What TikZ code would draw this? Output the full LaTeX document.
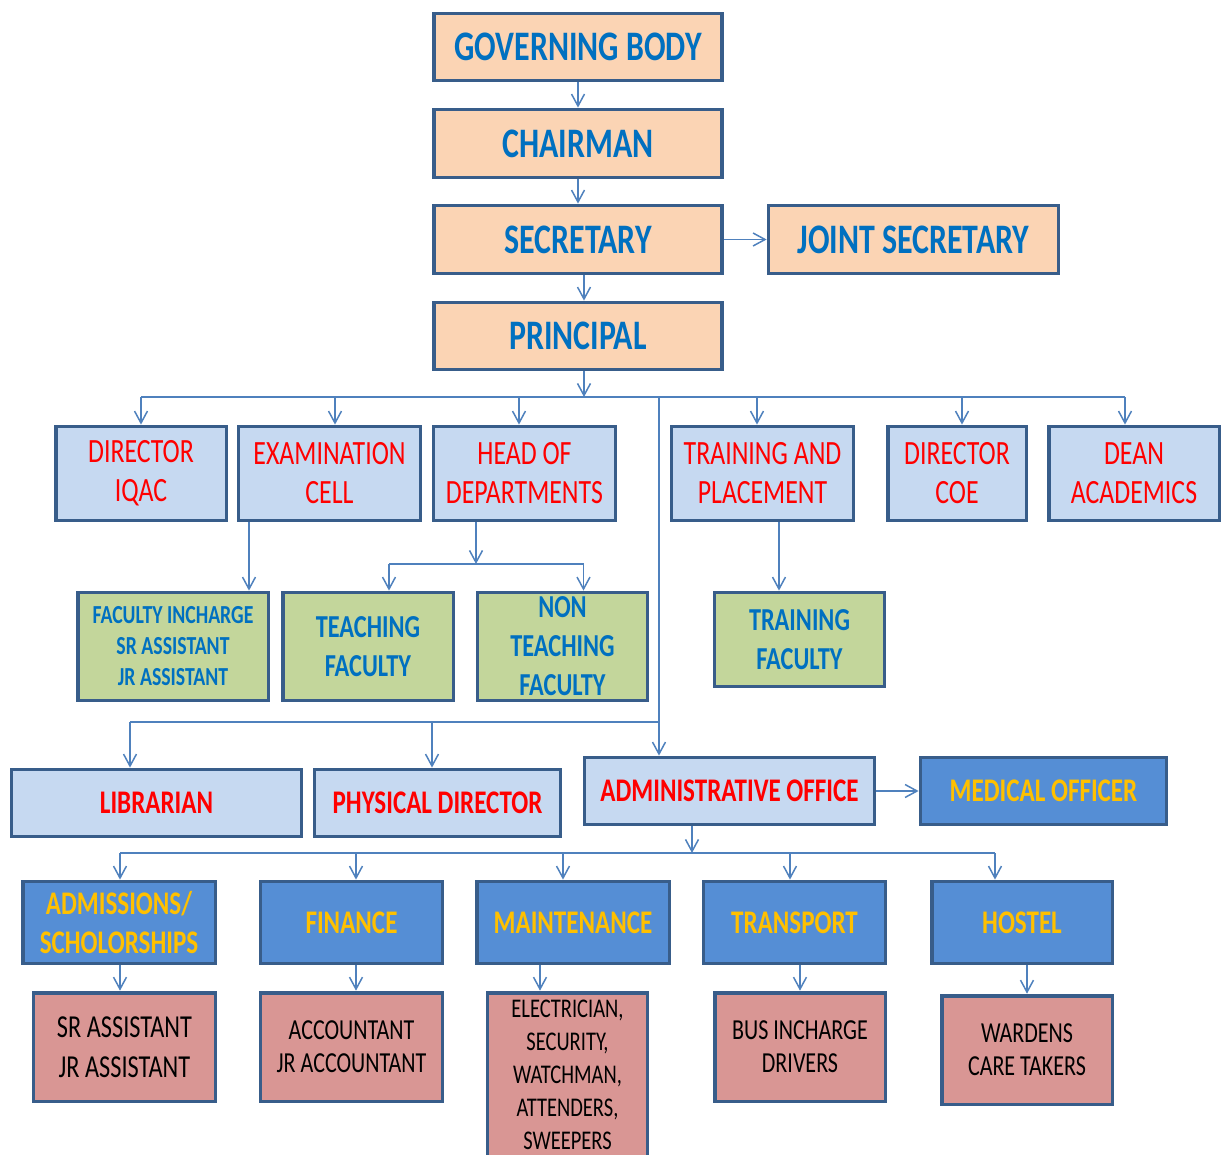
\documentclass[tikz,border=0pt]{standalone}
\usepackage{fontspec}
\setmainfont{Carlito}[FakeStretch=0.76]
\usepackage{tikz}
\usetikzlibrary{arrows.meta}
\usetikzlibrary{positioning}
\usetikzlibrary{calc}
\definecolor{peach}{HTML}{FBD4B4}
\definecolor{edge}{HTML}{385D8A}
\definecolor{topblue}{HTML}{0070C0}
\definecolor{paleblue}{HTML}{C6D9F1}
\definecolor{olive}{HTML}{C3D69B}
\definecolor{midblue}{HTML}{558ED5}
\definecolor{gold}{HTML}{FFC000}
\definecolor{rose}{HTML}{D99694}
\definecolor{wire}{HTML}{4F81BD}
\tikzstyle{box}=[draw=edge,line width=1.9pt,rectangle,inner sep=0pt,align=center]
\tikzstyle{board}=[box,fill=peach,text=topblue,font=\fontsize{21}{25}\selectfont\bfseries,minimum width=144pt,minimum height=33.5pt]
\tikzstyle{head}=[box,fill=paleblue,text=red,font=\fontsize{17}{19.5}\selectfont,minimum height=47pt,execute at begin node={\rule{0pt}{14.5pt}}]
\tikzstyle{faculty}=[box,fill=olive,text=topblue,font=\fontsize{16}{19.5}\selectfont\bfseries,minimum height=54pt]
\tikzstyle{office}=[box,fill=paleblue,text=red,font=\fontsize{16.5}{20}\selectfont\bfseries,minimum height=33.5pt]
\tikzstyle{section}=[box,fill=midblue,text=gold,font=\fontsize{16.5}{19.5}\selectfont\bfseries,minimum height=41pt]
\tikzstyle{worker}=[box,fill=rose,text=black,font=\fontsize{14.5}{16.5}\selectfont,minimum height=54.4pt]
\tikzstyle{link}=[draw=wire,line width=0.75pt]

\begin{document}
\begin{tikzpicture}[x=0.5pt,y=-0.5pt,>={Straight Barb[length=6pt,width=6.5pt]}]
\clip (0,0) rectangle (1223,1155);
% top of the chart
\node [board] (gb) at (578,47) {GOVERNING BODY};
\node [board,minimum height=34pt] (chair) at (578,143.5) {CHAIRMAN};
\node [board,minimum height=34pt] (sec) at (578,239.5) {SECRETARY};
\node [board,minimum width=145pt,minimum height=34pt] (jsec) at (913.5,239.5) {JOINT SECRETARY};
\node [board] (prin) at (578,336) {PRINCIPAL};

\node [head,minimum width=85.4pt] (iqac) at (141,473.5) {DIRECTOR\\IQAC};
\node [head,minimum width=91pt] (exam) at (329.5,473.5) {EXAMINATION\\CELL};
\node [head,minimum width=91pt] (hod) at (524.5,473.5) {HEAD OF\\DEPARTMENTS};
\node [head,minimum width=91pt] (tp) at (762.5,473.5) {TRAINING AND\\PLACEMENT};
\node [head,minimum width=69.4pt] (coe) at (957,473.5) {DIRECTOR\\COE};
\node [head,minimum width=85.4pt] (dean) at (1134,473.5) {DEAN\\ACADEMICS};

\node [faculty,minimum width=95.4pt,font=\fontsize{13}{15.5}\selectfont\bfseries] (fic) at (173,646.5) {FACULTY INCHARGE\\SR ASSISTANT\\JR ASSISTANT};
\node [faculty,minimum width=85.4pt] (teach) at (368,646.5) {TEACHING\\FACULTY};
\node [faculty,minimum width=85pt] (nonteach) at (562.5,646.5) {NON\\TEACHING\\FACULTY};
\node [faculty,minimum width=85pt,minimum height=47pt] (trainf) at (799.5,639.5) {TRAINING\\FACULTY};

\node [office,minimum width=145pt] (lib) at (156.5,803) {LIBRARIAN};
\node [office,minimum width=123pt] (phys) at (437.5,803) {PHYSICAL DIRECTOR};
\node [office,minimum width=145pt] (admin) at (729.5,791) {ADMINISTRATIVE OFFICE};
\node [section,minimum width=123pt,minimum height=33.5pt] (med) at (1043.5,791) {MEDICAL OFFICER};

% admin side
\node [section,minimum width=96.4pt] (adm) at (119,922.5) {ADMISSIONS/\\SCHOLORSHIPS};
\node [section,minimum width=91pt] (fin) at (351.5,922.5) {FINANCE};
\node [section,minimum width=96.4pt] (maint) at (573,922.5) {MAINTENANCE};
\node [section,minimum width=91pt] (trans) at (794.5,922.5) {TRANSPORT};
\node [section,minimum width=90.4pt] (host) at (1022,922.5) {HOSTEL};

\node [worker,minimum width=91pt,font=\fontsize{16}{20}\selectfont] (srjr) at (124.5,1047) {SR ASSISTANT\\JR ASSISTANT};
\node [worker,minimum width=91pt] (acct) at (351.5,1047) {ACCOUNTANT\\JR ACCOUNTANT};
\node [worker,minimum width=80pt,minimum height=82.4pt,font=\fontsize{13.5}{16.5}\selectfont] (elec) at (567.5,1075) {ELECTRICIAN,\\SECURITY,\\WATCHMAN,\\ATTENDERS,\\SWEEPERS};
\node [worker,minimum width=85.4pt] (drv) at (800,1047) {BUS INCHARGE\\DRIVERS};
\node [worker,minimum width=85.4pt] (ward) at (1027,1050) {WARDENS\\CARE TAKERS};

\coordinate (pbus) at (584,397);
\coordinate (spine) at (659,397);
\coordinate (lbus) at (659,722);
\coordinate (hbus) at (476,564);
\coordinate (abus) at (692,853);

\draw[link,->] (gb) -- (chair);
\draw[link,->] (chair) -- (sec);
\draw[link,->] ([xshift=3pt]sec.south) -- ([xshift=3pt]prin.north);
\draw[link,->] (sec) -- (jsec);
\draw[link,->] (prin.south -| pbus) -- (pbus);
\draw[link] (iqac.north |- pbus) -- ([xshift=-4.5pt]dean.north |- pbus);
\foreach \n/\s in {iqac/0,exam/2.75,hod/-2.75,tp/-2.75,coe/2.5,dean/-4.5}
  \draw[link,->] ([xshift=\s pt]\n.north |- pbus) -- ([xshift=\s pt]\n.north);
\draw[link,->] (spine) -- (spine |- admin.north);
\draw[link] (lbus) -- ([xshift=-13.25pt]lib.north |- lbus);
\foreach \n/\s in {lib/-13.25,phys/-2.75}
  \draw[link,->] ([xshift=\s pt]\n.north |- lbus) -- ([xshift=\s pt]\n.north);

\draw[link,->] ([xshift=-40.25pt]exam.south) -- ([xshift=-40.25pt]exam.south |- fic.north);
\draw[link,->] (hod.south -| hbus) -- (hbus);
\draw[link] ([xshift=10.5pt]teach.north |- hbus) -- ([xshift=10.5pt]nonteach.north |- hbus);
\foreach \n in {teach,nonteach}
  \draw[link,->] ([xshift=10.5pt]\n.north |- hbus) -- ([xshift=10.5pt]\n.north);
\draw[link,->] ([xshift=8.25pt]tp.south) -- ([xshift=8.25pt]tp.south |- trainf.north);

\draw[link,->] (admin) -- (med);
\draw[link,->] (admin.south -| abus) -- (abus);
\draw[link] ([xshift=0.5pt]adm.north |- abus) -- ([xshift=-13.5pt]host.north |- abus);
\foreach \n/\s in {adm/0.5,fin/2.25,maint/-5,trans/-2.25,host/-13.5}
  \draw[link,->] ([xshift=\s pt]\n.north |- abus) -- ([xshift=\s pt]\n.north);
\foreach \a/\b/\s in {adm/srjr/0.5,fin/acct/2.25,maint/elec/-16.5,trans/drv/2.75,host/ward/2.5}
  \draw[link,->] ([xshift=\s pt]\a.south) -- ([xshift=\s pt]\a.south |- \b.north);
\end{tikzpicture}
\end{document}
